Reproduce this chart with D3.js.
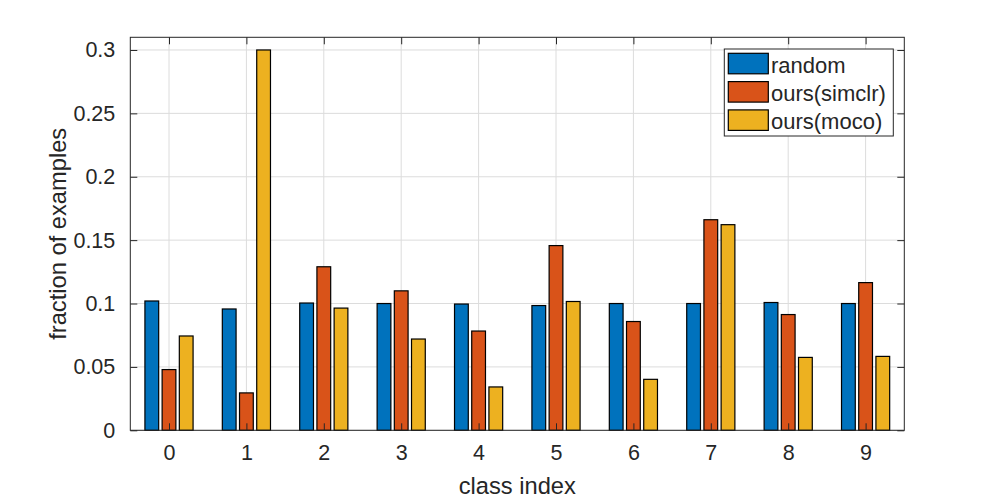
<!DOCTYPE html>
<html>
<head>
<meta charset="utf-8">
<script src="https://cdn.jsdelivr.net/npm/d3@7"></script>
<style>
  html, body { margin: 0; padding: 0; background: #fff; }
  svg { display: block; }
  text { font-family: "Liberation Sans", Arial, Helvetica, sans-serif; fill: #262626; }
</style>
</head>
<body>
<svg id="chart" width="1000" height="500"></svg>
<script>
const categories = ["0", "1", "2", "3", "4", "5", "6", "7", "8", "9"];
const seriesNames = ["random", "ours(simclr)", "ours(moco)"];
const randomVals = [0.102, 0.0957, 0.1004, 0.100, 0.0996, 0.0984, 0.100, 0.100, 0.1008, 0.100];
const simclrVals = [0.0479, 0.0295, 0.129, 0.110, 0.0783, 0.1457, 0.0858, 0.1661, 0.0913, 0.1165];
const mocoVals = [0.0744, 0.300, 0.0964, 0.072, 0.0342, 0.1016, 0.0402, 0.1622, 0.0575, 0.0583];
const yTicks = [0, 0.05, 0.1, 0.15, 0.2, 0.25, 0.3];
const yTickLabels = ["0", "0.05", "0.1", "0.15", "0.2", "0.25", "0.3"];
const colors = ["#0072BD", "#D95319", "#EDB120"];

const series = [randomVals, simclrVals, mocoVals];

const svg = d3.select("#chart");
const L = 130.3, R = 904.3, T = 37.3, B = 430.3;
const x = d3.scaleLinear().domain([-0.5, categories.length - 0.5]).range([L, R]);
const y = d3.scaleLinear().domain([0, 0.31]).range([B, T]);

const nb = series.length;
const groupW = Math.min(0.8, nb / (nb + 1.5));
const barW = groupW / nb * 0.8;
const offsets = d3.range(nb).map(i => -groupW / 2 + (2 * i + 1) * groupW / (2 * nb));

// background
svg.append("rect").attr("x", L).attr("y", T).attr("width", R - L).attr("height", B - T).attr("fill", "#fff");

// grid
const grid = svg.append("g").attr("stroke", "#dcdcdc").attr("stroke-width", 1);
categories.forEach((c, i) => {
  grid.append("line").attr("x1", x(i)).attr("x2", x(i)).attr("y1", T).attr("y2", B);
});
yTicks.forEach(v => {
  grid.append("line").attr("x1", L).attr("x2", R).attr("y1", y(v)).attr("y2", y(v));
});

// bars
series.forEach((vals, s) => {
  svg.append("g").selectAll("rect").data(vals).join("rect")
    .attr("x", (d, i) => x(i + offsets[s] - barW / 2))
    .attr("width", x(barW) - x(0))
    .attr("y", d => y(d))
    .attr("height", d => y(0) - y(d))
    .attr("fill", colors[s])
    .attr("stroke", "#000")
    .attr("stroke-width", 1.2);
});

// axes with inward ticks
const tickLen = 7;
const xAxisB = d3.axisBottom(x).tickValues(d3.range(categories.length)).tickFormat(i => categories[i]).tickSizeInner(-tickLen).tickSizeOuter(0).tickPadding(14);
const xAxisT = d3.axisTop(x).tickValues(d3.range(categories.length)).tickFormat("").tickSizeInner(-tickLen).tickSizeOuter(0);
const yAxisL = d3.axisLeft(y).tickValues(yTicks).tickFormat((d, i) => yTickLabels[i]).tickSizeInner(-tickLen).tickSizeOuter(0).tickPadding(15);
const yAxisR = d3.axisRight(y).tickValues(yTicks).tickFormat("").tickSizeInner(-tickLen).tickSizeOuter(0);

function style(g) {
  g.select(".domain").remove();
  g.selectAll(".tick line").attr("stroke", "#262626").attr("stroke-width", 1);
  g.selectAll(".tick text").attr("font-size", "21.5px").attr("fill", "#262626")
    .attr("font-family", "\"Liberation Sans\", Arial, Helvetica, sans-serif");
}
svg.append("g").attr("transform", `translate(0,${B})`).call(xAxisB).call(style);
svg.append("g").attr("transform", `translate(0,${T})`).call(xAxisT).call(style);
svg.append("g").attr("transform", `translate(${L},0)`).call(yAxisL).call(style);
svg.append("g").attr("transform", `translate(${R},0)`).call(yAxisR).call(style);

// box
svg.append("rect").attr("x", L).attr("y", T).attr("width", R - L).attr("height", B - T)
  .attr("fill", "none").attr("stroke", "#262626").attr("stroke-width", 1);

// axis labels
svg.append("text").attr("x", (L + R) / 2).attr("y", 494).attr("text-anchor", "middle")
  .attr("font-size", "23.7px").text("class index");
svg.append("text").attr("transform", `translate(66,${(T + B) / 2}) rotate(-90)`).attr("text-anchor", "middle")
  .attr("font-size", "23.7px").text("fraction of examples");

// legend
const lg = svg.append("g");
lg.append("rect").attr("x", 724.3).attr("y", 49).attr("width", 169).attr("height", 87)
  .attr("fill", "#fff").attr("stroke", "#262626").attr("stroke-width", 1);
seriesNames.forEach((n, i) => {
  const yy = 53.3 + i * 28.3;
  lg.append("rect").attr("x", 728.3).attr("y", yy).attr("width", 40).attr("height", 20.5)
    .attr("fill", colors[i]).attr("stroke", "#000").attr("stroke-width", 1.2);
  lg.append("text").attr("x", 771).attr("y", yy + 19.4).attr("font-size", "22px").text(n);
});
</script>
</body>
</html>
